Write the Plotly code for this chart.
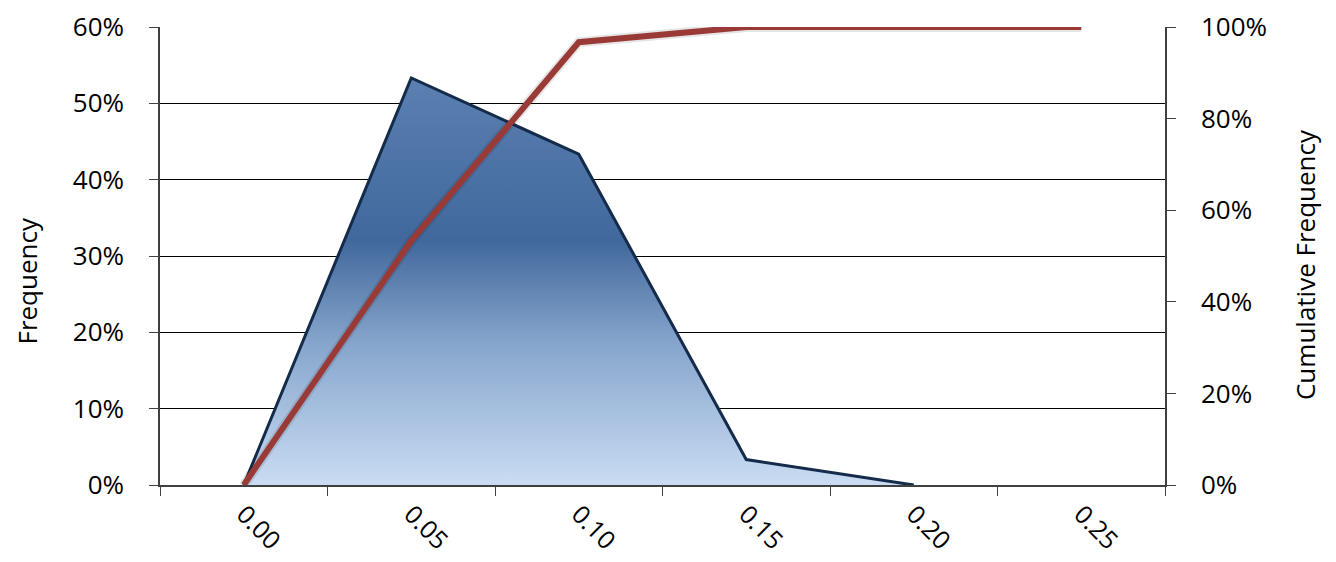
import plotly.graph_objects as go

categories = ["0.00", "0.05", "0.10", "0.15", "0.20", "0.25"]
frequency = [0.0, 0.5333, 0.4333, 0.0333, 0.0, None]
cumulative = [0.0, 0.5333, 0.9667, 1.0, 1.0, 1.0]
left_ticks = [0, 0.1, 0.2, 0.3, 0.4, 0.5, 0.6]
right_ticks = [0, 0.2, 0.4, 0.6, 0.8, 1.0]

FONT = "Open Sans"
FS = 26

fig = go.Figure()

fig.add_trace(go.Scatter(
    x=categories, y=frequency, mode="lines", name="Frequency",
    fill="tozeroy",
    fillgradient=dict(type="vertical",
                      colorscale=[[0, "#c9dcf3"], [0.35, "#86a5cc"], [0.6, "#41689c"], [1, "#5b80b1"]]),
    line=dict(color="#142b4a", width=3),
    connectgaps=False, showlegend=False,
))

fig.add_trace(go.Scatter(
    x=categories, y=cumulative, mode="lines", name="Cumulative shadow",
    line=dict(color="rgba(0,0,0,0.10)", width=10),
    yaxis="y2", showlegend=False, hoverinfo="skip",
))
fig.add_trace(go.Scatter(
    x=categories, y=cumulative, mode="lines", name="Cumulative Frequency",
    line=dict(color="#9a3a36", width=6),
    yaxis="y2", showlegend=False,
))

fig.update_layout(
    width=1328, height=554,
    margin=dict(l=152, r=171, t=19, b=77),
    paper_bgcolor="white", plot_bgcolor="white",
    font=dict(family=FONT, size=FS, color="#000000"),
    xaxis=dict(
        type="category", categoryorder="array", categoryarray=categories,
        range=[-0.5, 5.5], tickson="boundaries",
        ticks="outside", ticklen=9, tickcolor="#404040", tickwidth=1,
        tickangle=45, tickfont=dict(size=25, family=FONT),
        showline=True, linecolor="#404040", linewidth=1.5,
        showgrid=False, zeroline=False, automargin=False,
        ticklabelstandoff=3, ticklabeloverflow="allow",
    ),
    yaxis=dict(
        range=[0, 0.6], tickvals=left_ticks, tickformat=".0%",
        ticks="outside", ticklen=9, tickcolor="#404040",
        showline=True, linecolor="#404040", linewidth=1.5,
        showgrid=True, gridcolor="#000000", gridwidth=1,
        zeroline=False, ticklabelstandoff=20, automargin=False,
        ticklabeloverflow="allow",
    ),
    yaxis2=dict(
        range=[0, 1.0], tickvals=right_ticks, tickformat=".0%",
        overlaying="y", side="right",
        ticks="outside", ticklen=9, tickcolor="#404040",
        showline=True, linecolor="#404040", linewidth=1.5,
        showgrid=False, zeroline=False, ticklabelstandoff=20, automargin=False,
        ticklabeloverflow="allow",
    ),
    annotations=[
        dict(text="Frequency", xref="paper", yref="paper", x=-0.132, y=0.445,
             textangle=-90, showarrow=False, font=dict(size=FS, family=FONT),
             xanchor="center", yanchor="middle"),
        dict(text="Cumulative Frequency", xref="paper", yref="paper", x=1.1393, y=0.4825,
             textangle=-90, showarrow=False, font=dict(size=FS, family=FONT),
             xanchor="center", yanchor="middle"),
    ],
)

fig.write_html("out.html")
